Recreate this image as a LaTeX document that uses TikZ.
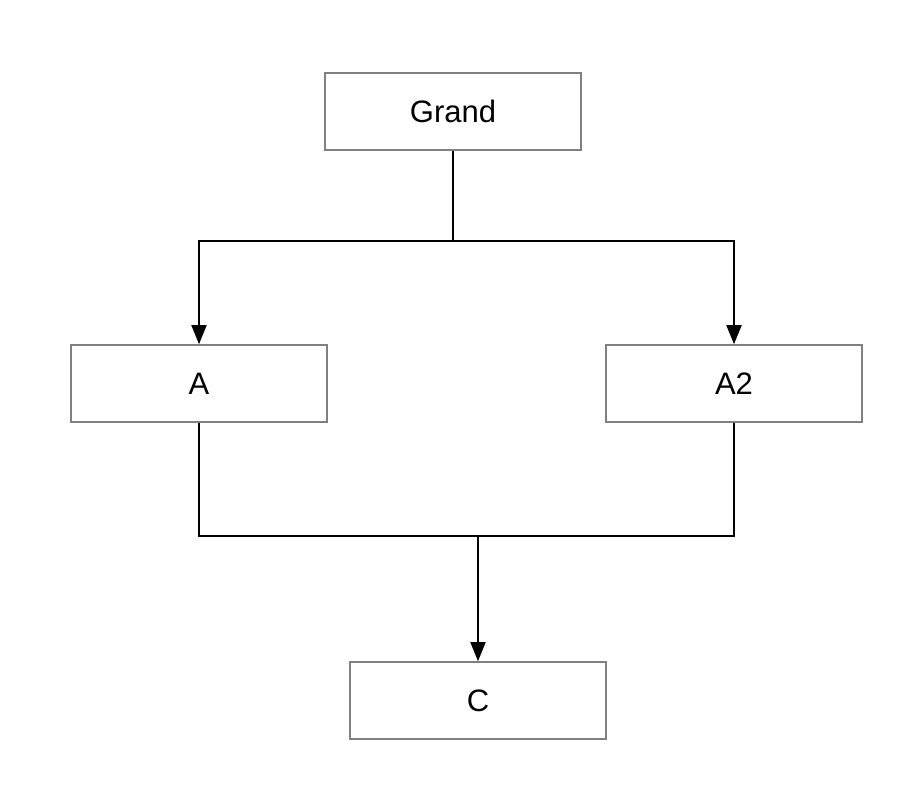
\documentclass[tikz,border=0pt]{standalone}
\usepackage{fontspec}
\setmainfont{Liberation Sans}
\usetikzlibrary{arrows.meta}
\tikzset{
  box/.style={draw=gray, line width=1.6pt, minimum width=256pt, minimum height=77pt,
    inner sep=0pt, font=\fontsize{31}{37}\selectfont},
  link/.style={line width=1.8pt},
  arr/.style={link, -{Triangle[length=19pt, width=15pt]}}
}

\begin{document}
\begin{tikzpicture}[x=1pt, y=-1pt]
			\useasboundingbox (0,0) rectangle (904,796);
			%% boxes
			\node[box] (grand) at (453,111.5) {Grand};
			\node[box] (a)     at (199,383.5) {A};
			\node[box] (a2)    at (734,383.5) {A2};
			\node[box] (c)     at (478,700.5) {C};
			%% split
			\coordinate (fork) at (453,241);
			\draw[link] (grand.south) -- (fork);
			\draw[arr] (fork) -| (a.north);
			\draw[arr] (fork) -| (a2.north);
			%% join
			\coordinate (merge) at (478,536);
			\draw[link] (a.south) |- (merge);
			\draw[link] (a2.south) |- (merge);
			\draw[arr] (merge) -- (c.north);
\end{tikzpicture}
\end{document}
